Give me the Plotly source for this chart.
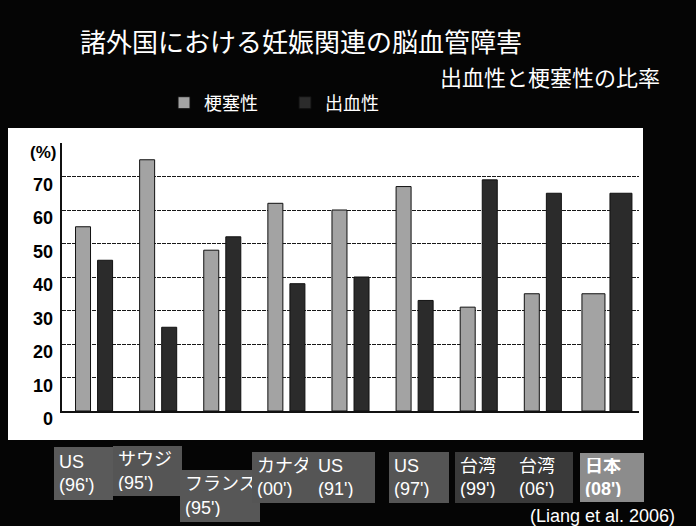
import plotly.graph_objects as go

# ---- data ----
categories = ["US<br>(96')", "サウジ<br>(95')", "フランス<br>(95')", "カナダ<br>(00')", "US<br>(91')",
              "US<br>(97')", "台湾<br>(99')", "台湾<br>(06')", "日本<br>(08')"]
infarct = [55, 75, 48, 62, 60, 67, 31, 35, 35]      # 梗塞性
hemorrhage = [45, 25, 52, 38, 40, 33, 69, 65, 65]   # 出血性
series_names = ["梗塞性", "出血性"]
ytick_vals = [0, 10, 20, 30, 40, 50, 60, 70]
title_text = "諸外国における妊娠関連の脳血管障害"
subtitle_text = "出血性と梗塞性の比率"
source_text = "(Liang et al. 2006)"
unit_text = "(%)"

# ---- geometry (pixels) ----
W, H = 696, 526
L, R, T, B = 62, 57, 143, 115
PW = W - L - R
PH = H - T - B


def px_x(x):
    return (x - L) / PW


def px_y(y):
    return (H - B - y) / PH


CJK = "Noto Sans CJK JP"
LAT = "Liberation Sans, Arial, Noto Sans CJK JP"
NARROW = "Liberation Sans Narrow, Arial Narrow, Liberation Sans, Noto Sans CJK JP"

n = len(categories)
light_off = [-0.289] * (n - 1) + [-0.39]
light_w = [0.234] * (n - 1) + [0.359]
dark_off = [0.055] * (n - 1) + [0.047]
dark_w = [0.234] * (n - 1) + [0.343]

fig = go.Figure()
fig.add_trace(go.Bar(x=categories, y=infarct, name=series_names[0],
                     offset=light_off, width=light_w,
                     marker=dict(color="#a3a3a3", line=dict(color="#111", width=1))))
fig.add_trace(go.Bar(x=categories, y=hemorrhage, name=series_names[1],
                     offset=dark_off, width=dark_w,
                     marker=dict(color="#2b2b2b", line=dict(color="#111", width=1))))

shapes = [dict(type="rect", xref="paper", yref="paper", layer="below",
               x0=px_x(8), x1=px_x(643), y0=px_y(440), y1=px_y(128),
               fillcolor="white", line=dict(width=0))]

annotations = []
annotations.append(dict(text=title_text, xref="paper", yref="paper", x=px_x(78), y=px_y(41),
                        xanchor="left", yanchor="middle", showarrow=False,
                        font=dict(family=CJK, size=26, color="white")))
annotations.append(dict(text=subtitle_text, xref="paper", yref="paper", x=px_x(662), y=px_y(76),
                        xanchor="right", yanchor="middle", showarrow=False,
                        font=dict(family=CJK, size=22, color="white")))
annotations.append(dict(text=source_text, xref="paper", yref="paper", x=px_x(677), y=px_y(516),
                        xanchor="right", yanchor="middle", showarrow=False,
                        font=dict(family=LAT, size=18, color="white")))
annotations.append(dict(text="<b>" + unit_text + "</b>", xref="paper", yref="paper", x=px_x(58),
                        y=px_y(152), xanchor="right", yanchor="middle", showarrow=False,
                        font=dict(family=LAT, size=17, color="black")))
for v in ytick_vals:
    annotations.append(dict(text="<b>%d</b>" % v, xref="paper", yref="y", x=0, y=v,
                            xanchor="right", yanchor="middle", xshift=-7, yshift=-8,
                            showarrow=False, font=dict(family=LAT, size=18, color="black")))

# category label boxes (style only)
box_shift = [-10.6, -10.7, -2.3, -4, -6.5, 4.4, 5.8, 0.7, 5.1]
box_w = [59, 69, 80, 61, 62, 60, 59, 59, 64]
box_h = [53, 50, 52, 51, 51, 51, 51, 51, 49]
box_cy = [473.5, 471, 496, 477.5, 477.5, 477.5, 477.5, 477.5, 477.5]
box_col = ["#5a5a5a", "#555555", "#575757", "#555555", "#555555", "#555555",
           "#3a3a3a", "#3a3a3a", "#8c8c8c"]
PAD = 5
for i, c in enumerate(categories):
    txt = "<b>" + c + "</b>" if i == n - 1 else c
    annotations.append(dict(text=txt, xref="x", yref="paper", x=c, y=px_y(box_cy[i]),
                            xshift=box_shift[i], xanchor="center", yanchor="middle",
                            width=box_w[i] - 2 * PAD, height=box_h[i] - 2 * PAD, align="left",
                            valign="middle", bgcolor=box_col[i], borderpad=PAD, borderwidth=0,
                            showarrow=False,
                            font=dict(family=NARROW, size=18, color="white")))

fig.update_layout(
    width=W, height=H,
    margin=dict(l=L, r=R, t=T, b=B),
    paper_bgcolor="#050505", plot_bgcolor="white",
    barmode="overlay",
    showlegend=True,
    legend=dict(orientation="h", x=px_x(164), y=px_y(103), xanchor="left", yanchor="middle",
                bgcolor="rgba(0,0,0,0)", font=dict(family=CJK, size=18, color="white"),
                entrywidth=76, traceorder="normal"),
    xaxis=dict(type="category", showticklabels=False, ticks="", showgrid=False,
               showline=True, linecolor="#111", linewidth=1.5, zeroline=False,
               range=[-0.5, n - 0.5], fixedrange=True),
    yaxis=dict(range=[0, 80], tickvals=ytick_vals, showticklabels=False, ticks="",
               showgrid=True, gridcolor="#1a1a1a", gridwidth=1, griddash="4px,1px",
               showline=True, linecolor="#111", linewidth=1.5, zeroline=False),
    shapes=shapes,
    annotations=annotations,
)

fig.write_html("out.html")
